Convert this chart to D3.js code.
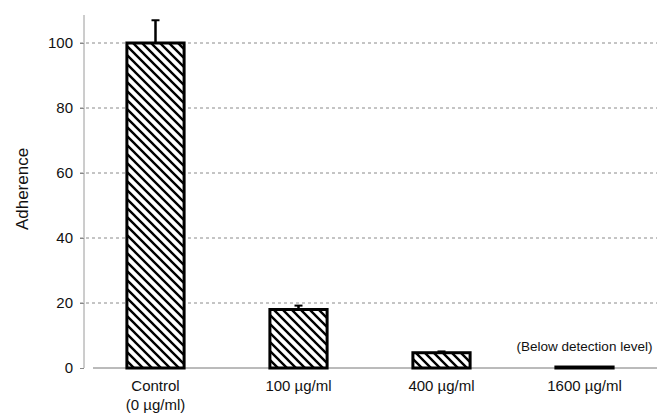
<!DOCTYPE html>
<html><head><meta charset="utf-8">
<script src="https://cdn.jsdelivr.net/npm/d3@7"></script>
<style>body{margin:0;background:#fff;} text{font-family:"Liberation Sans",Arial,sans-serif;}</style>
</head><body>
<svg id="c" width="668" height="414"></svg>
<script>
const categories = ["Control", "100 µg/ml", "400 µg/ml", "1600 µg/ml"];
const subLabels = ["(0 µg/ml)", "", "", ""];
const values = [100, 18, 4.7, 0.3];
const errors = [7, 1.2, 0.4, 0];
const yTicks = [0, 20, 40, 60, 80, 100];
const note = "(Below detection level)";

const svg = d3.select("#c");
const x = d3.scaleBand().domain(categories).range([84, 656]).paddingInner(0.6).paddingOuter(0.3);
const y = d3.scaleLinear().domain([0, 100]).range([368, 43]);

const defs = svg.append("defs");
const pat = defs.append("pattern").attr("id", "hatch").attr("patternUnits", "userSpaceOnUse")
  .attr("width", 9).attr("height", 9);
pat.append("rect").attr("width", 9).attr("height", 9).attr("fill", "#fff");
pat.append("path").attr("d", "M-2,-2 L11,11 M-2,7 L2,11 M7,-2 L11,2").attr("stroke", "#000").attr("stroke-width", 2.4);

// grid
svg.append("g").selectAll("line").data(yTicks.filter(d => d > 0)).join("line")
  .attr("x1", 80).attr("x2", 657).attr("y1", d => y(d)).attr("y2", d => y(d))
  .attr("stroke", "#8a8a8a").attr("stroke-width", 1).attr("stroke-dasharray", "3,3");

// y axis
const ya = svg.append("g").attr("transform", "translate(84,0)")
  .call(d3.axisLeft(y).tickValues(yTicks).tickSize(4).tickPadding(7));
ya.select(".domain").remove();
ya.append("line").attr("x1", 0).attr("x2", 0).attr("y1", 15).attr("y2", 368).attr("stroke", "#9a9a9a");
ya.selectAll(".tick line").attr("stroke", "#888");
ya.selectAll(".tick text").attr("font-size", 15).attr("fill", "#111").style("font-family", "Liberation Sans, Arial, sans-serif");

// baseline
svg.append("line").attr("x1", 93).attr("x2", 657).attr("y1", y(0)).attr("y2", y(0))
  .attr("stroke", "#777").attr("stroke-width", 1);

// bars
svg.append("g").selectAll("rect").data(values).join("rect")
  .attr("x", (d, i) => x(categories[i]))
  .attr("y", d => y(d))
  .attr("width", x.bandwidth())
  .attr("height", d => y(0) - y(d))
  .attr("fill", "url(#hatch)").attr("stroke", "#000").attr("stroke-width", 3);

// error bars
const eb = svg.append("g");
values.forEach((v, i) => {
  if (!errors[i]) return;
  const cx = x(categories[i]) + x.bandwidth() / 2;
  eb.append("line").attr("x1", cx).attr("x2", cx).attr("y1", y(v)).attr("y2", y(v + errors[i]))
    .attr("stroke", "#000").attr("stroke-width", 2.5);
  eb.append("line").attr("x1", cx - 4).attr("x2", cx + 4).attr("y1", y(v + errors[i])).attr("y2", y(v + errors[i]))
    .attr("stroke", "#000").attr("stroke-width", 2);
});

// x labels
const xl = svg.append("g");
categories.forEach((c, i) => {
  const cx = x(c) + x.bandwidth() / 2;
  xl.append("text").attr("x", cx).attr("y", 391).attr("text-anchor", "middle").attr("font-size", 15).attr("fill", "#111").text(c);
  if (subLabels[i]) xl.append("text").attr("x", cx).attr("y", 410).attr("text-anchor", "middle").attr("font-size", 15).attr("fill", "#111").text(subLabels[i]);
});

svg.append("text").attr("x", x(categories[3]) + x.bandwidth() / 2).attr("y", 351)
  .attr("text-anchor", "middle").attr("font-size", 13.5).attr("fill", "#111").text(note);

svg.append("text").attr("transform", "translate(28,189) rotate(-90)").attr("text-anchor", "middle")
  .attr("font-size", 17).attr("fill", "#111").text("Adherence");
</script>
</body></html>
